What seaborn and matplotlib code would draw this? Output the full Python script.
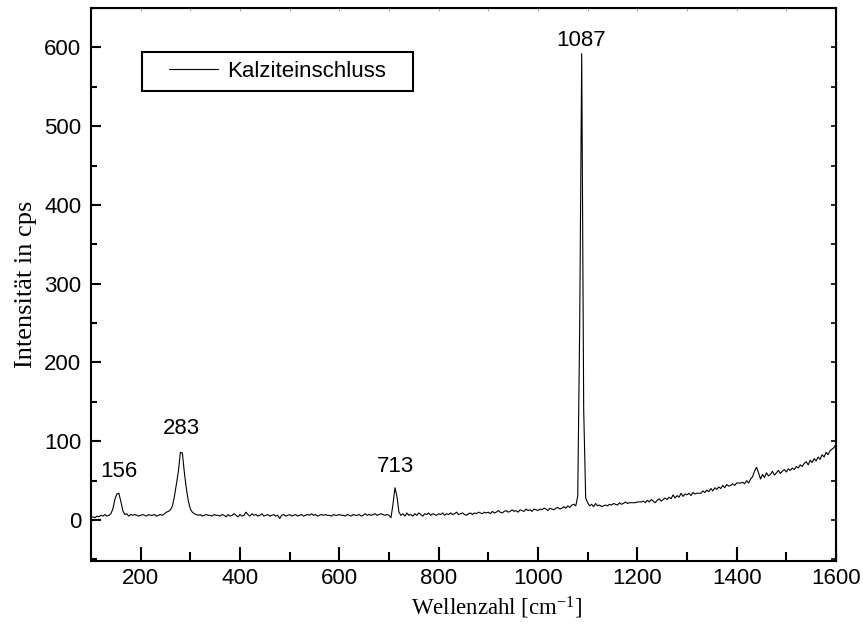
import numpy as np
import pandas as pd
import matplotlib
matplotlib.use("Agg")
import matplotlib.pyplot as plt
import seaborn as sns
from matplotlib.ticker import MultipleLocator
from matplotlib.patches import Rectangle

# ---- data ----
wavenumber = np.arange(100, 1601, 4)
intensity = [
    3, 4, 3, 5, 4, 6, 5, 7, 5, 6, 8, 14, 26, 33, 34, 24, 12, 7, 8, 5, 7, 6, 7, 6, 5,
    6, 7, 6, 5, 7, 6, 6, 7, 5, 6, 7, 6, 8, 10, 11, 13, 18, 30, 46, 62, 86, 85, 60, 40, 24,
    14, 10, 8, 7, 6, 7, 5, 6, 7, 6, 6, 5, 7, 6, 6, 5, 7, 6, 4, 7, 5, 6, 8, 6, 4,
    7, 5, 6, 10, 7, 5, 8, 6, 7, 5, 6, 8, 5, 6, 7, 5, 6, 7, 5, 6, 2, 6, 7, 5, 6,
    7, 5, 6, 7, 5, 6, 7, 5, 6, 7, 6, 8, 6, 7, 5, 6, 7, 6, 7, 6, 6, 5, 7, 6, 6,
    7, 6, 6, 5, 7, 6, 5, 7, 6, 6, 7, 5, 6, 8, 6, 7, 6, 7, 8, 6, 7, 8, 7, 6, 7,
    6, 3, 20, 41, 30, 10, 6, 8, 5, 9, 6, 7, 5, 8, 6, 9, 7, 5, 8, 7, 9, 6, 8, 7, 6,
    8, 7, 9, 6, 8, 7, 9, 7, 8, 10, 7, 8, 9, 7, 6, 8, 9, 7, 9, 8, 10, 9, 8, 10, 9,
    10, 8, 11, 9, 10, 12, 10, 9, 11, 12, 10, 11, 13, 11, 12, 10, 13, 12, 11, 14, 12, 13, 11, 14, 13,
    12, 14, 13, 15, 14, 12, 15, 14, 13, 15, 16, 14, 15, 17, 15, 18, 16, 19, 20, 18, 30, 250, 592, 140, 28,
    22, 18, 20, 17, 21, 18, 19, 17, 18, 19, 18, 20, 19, 21, 20, 19, 22, 20, 21, 23, 21, 22, 22, 22, 22,
    23, 23, 23, 24, 22, 25, 23, 26, 24, 22, 25, 27, 24, 26, 28, 26, 29, 27, 32, 28, 31, 29, 34, 30, 33,
    32, 34, 31, 35, 33, 34, 34, 34, 37, 35, 38, 36, 40, 37, 41, 39, 42, 40, 44, 41, 45, 43, 44, 46, 44,
    47, 47, 47, 48, 46, 50, 47, 52, 55, 62, 67, 60, 52, 58, 54, 60, 56, 58, 62, 57, 60, 63, 59, 62, 64,
    61, 65, 63, 66, 64, 68, 66, 70, 68, 72, 74, 70, 76, 73, 78, 75, 80, 77, 83, 80, 86, 83, 88, 90, 92,
    96,
]
series_name = "Kalziteinschluss"
peak_positions = [156, 283, 713, 1087]
peak_heights = [34, 87, 41, 592]
peak_labels = ["156", "283", "713", "1087"]
x_ticks = [200, 400, 600, 800, 1000, 1200, 1400, 1600]
y_ticks = [0, 100, 200, 300, 400, 500, 600]

df = pd.DataFrame({"Wellenzahl": wavenumber, "Intensitaet": intensity})

sns.set_style("ticks")
plt.rcParams["font.family"] = ["Liberation Sans", "DejaVu Sans"]
plt.rcParams["text.color"] = "black"
plt.rcParams["axes.labelcolor"] = "black"
plt.rcParams["xtick.color"] = "black"
plt.rcParams["ytick.color"] = "black"
plt.rcParams["mathtext.fontset"] = "custom"
plt.rcParams["mathtext.rm"] = "Liberation Serif"
plt.rcParams["mathtext.it"] = "Liberation Serif:italic"

fig = plt.figure(figsize=(8.63, 6.24), dpi=100)
ax = fig.add_axes([91 / 863, 1 - 561 / 624, (836 - 91) / 863, (561 - 8) / 624])

sns.lineplot(data=df, x="Wellenzahl", y="Intensitaet", ax=ax, color="black",
             linewidth=0.8, label=series_name)

ax.set_xlim(100, 1600)
ax.set_ylim(-52, 650)
ax.set_xticks(x_ticks)
ax.set_yticks(y_ticks)
ax.xaxis.set_minor_locator(MultipleLocator(100))
ax.yaxis.set_minor_locator(MultipleLocator(50))

for s in ax.spines.values():
    s.set_linewidth(1.5)
    s.set_color("black")
    s.set_visible(True)

ax.tick_params(axis="x", which="major", direction="in", length=10, width=1.5,
               labelsize=16, pad=5, colors="black")
ax.tick_params(axis="x", which="minor", direction="in", length=6.5, width=1.5)
ax.tick_params(axis="y", which="major", direction="in", length=7, width=1.5,
               labelsize=16, pad=7, colors="black")
ax.tick_params(axis="y", which="minor", direction="in", length=4.5, width=1.5)

# short ticks on the right and top
secy = ax.secondary_yaxis("right")
secy.set_yticks(y_ticks)
secy.yaxis.set_minor_locator(MultipleLocator(50))
secy.tick_params(which="both", direction="in", length=3.5, width=1.2, labelright=False)
secx = ax.secondary_xaxis("top")
secx.set_xticks(x_ticks)
secx.xaxis.set_minor_locator(MultipleLocator(100))
secx.tick_params(which="both", direction="in", length=2.5, width=0.6, labeltop=False,
                 colors="#999999")

serif = ["Liberation Serif", "DejaVu Serif"]
ax.set_xlabel(r"Wellenzahl [cm$^{\mathrm{-1}}$]", fontsize=16.5, family=serif,
              labelpad=4, x=0.545, color="black")
ax.set_ylabel("Intensität in cps", fontsize=19, family=serif, labelpad=5, color="black")

offsets = [8, 9, 8, 2]
for xp, yp, lab, off in zip(peak_positions, peak_heights, peak_labels, offsets):
    ax.annotate(lab, (xp, yp), xytext=(0, off), textcoords="offset points",
                ha="center", va="bottom", fontsize=16, color="black")

leg = ax.legend(loc="center left", bbox_to_anchor=(0.1047, 0.886), borderaxespad=0,
                fontsize=16, frameon=False, handlelength=2.2, handletextpad=0.4,
                borderpad=0, labelcolor="black")
for line in leg.get_lines():
    line.set_linewidth(0.8)
ax.add_patch(Rectangle((0.0685, 0.850), 0.432 - 0.0685, 0.070, transform=ax.transAxes,
                       fill=False, edgecolor="black", linewidth=1.5, zorder=5))

fig.savefig("out.png", dpi=100)
